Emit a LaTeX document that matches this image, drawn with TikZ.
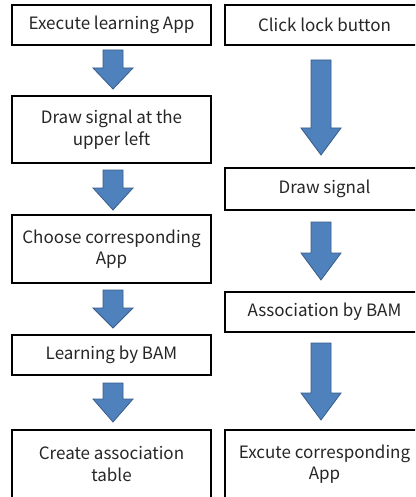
\documentclass[tikz,border=0pt]{standalone}
\usepackage{fontspec}
\setmainfont{Noto Sans CJK KR}
\definecolor{arrowblue}{HTML}{4F81BD}
\definecolor{arrowedge}{HTML}{385D8A}
\tikzset{stepbox/.style={draw=black,line width=1.6pt,fill=white,minimum width=199pt,
    inner sep=0pt,align=center,font=\fontsize{17}{21.5}\selectfont,text=black!85}}
\tikzset{arrowfill/.style={fill=arrowblue,draw=arrowedge,line width=0.8pt,line join=miter}}
% block arrow: centre x, top, start of head, tip
\newcommand{\flowarrow}[4]{%
  \filldraw[arrowfill] (#1-10,#2) -- (#1+10,#2) -- (#1+10,#3) -- (#1+20,#3)
    -- (#1,#4) -- (#1-20,#3) -- (#1-10,#3) -- cycle;}

\begin{document}
\begin{tikzpicture}[x=1pt,y=-1pt]
      \clip (0,0) rectangle (415,497);
      \fill[white] (0,0) rectangle (415,497);

      % learning side
      \node[stepbox,minimum height=40pt] (exec) at (111.5,25) {Execute learning App};
      \node[stepbox,minimum height=67pt] (upleft) at (111.5,129.5) {Draw signal at the\\upper left};
      \node[stepbox,minimum height=68pt] (choose) at (111.5,249) {Choose corresponding\\App};
      \node[stepbox,minimum height=40pt] (learn) at (111.5,355) {Learning by BAM};
      \node[stepbox,minimum height=68pt] (table) at (111.5,464) {Create association\\table};

      % running side
      \node[stepbox,minimum height=40pt] (lock) at (324.5,25) {Click lock button};
      \node[stepbox,minimum height=42pt] (sig) at (324.5,189) {Draw signal};
      \node[stepbox,minimum height=40pt] (assoc) at (324.5,312) {Association by BAM};
      \node[stepbox,minimum height=68pt] (run) at (324.5,464) {Excute corresponding\\App};

      \flowarrow{113}{50}{68}{89}
      \flowarrow{113}{170}{188}{210}
      \flowarrow{113}{290}{308}{328}
      \flowarrow{113}{383}{399}{422}

      \flowarrow{321}{60}{128}{155}
      \flowarrow{321}{222}{253}{280}
      \flowarrow{321}{343}{393}{420}

    \end{tikzpicture}
\end{document}
